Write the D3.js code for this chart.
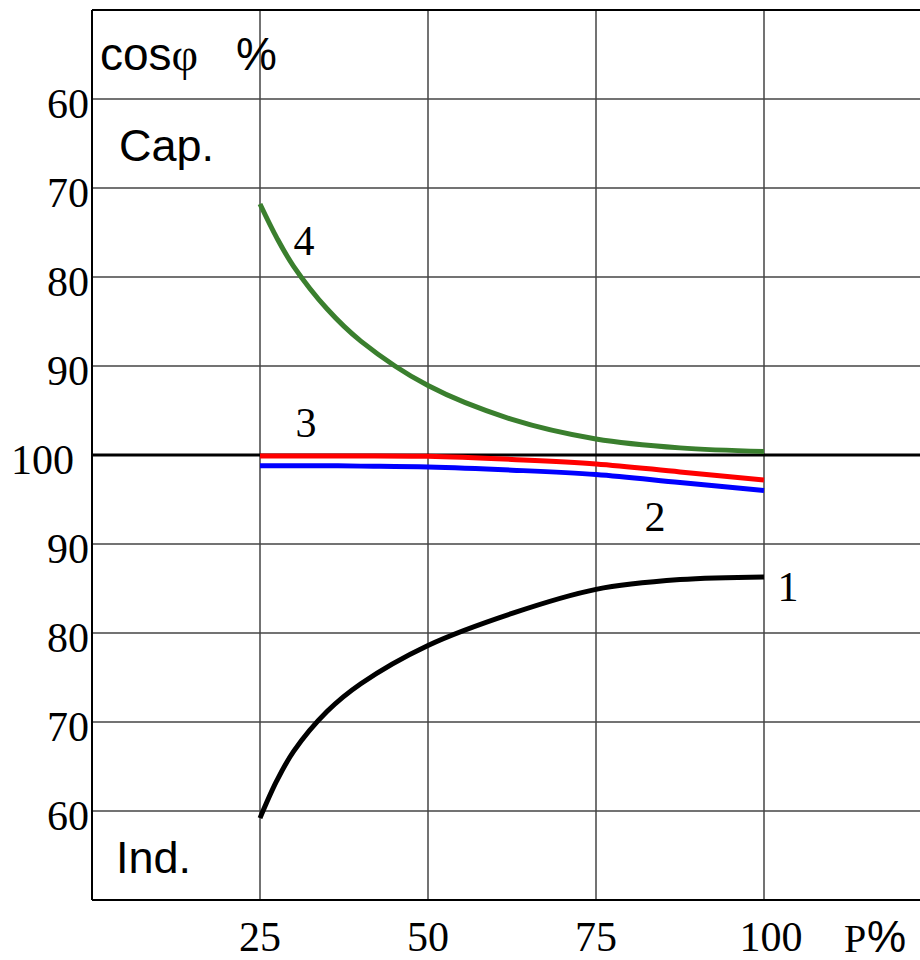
<!DOCTYPE html>
<html>
<head>
<meta charset="utf-8">
<script src="https://cdn.jsdelivr.net/npm/d3@7"></script>
<style>
  body { margin: 0; background: #fff; }
  svg { display: block; }
</style>
</head>
<body>
<div id="chart-container"></div>
<script>
// load P in %
const P = [25, 27.5, 30, 35, 40, 50, 62.5, 75, 87.5, 100];
// cos phi in %, curves 1-3 inductive side, curve 4 capacitive side
const curve1 = [59.2, 63.4, 66.7, 71.2, 74.3, 78.6, 82.2, 84.9, 86.0, 86.3];
const curve2 = [98.8, 98.8, 98.8, 98.8, 98.75, 98.65, 98.3, 97.8, 96.9, 96.0];
const curve3 = [99.9, 99.9, 99.9, 99.9, 99.9, 99.85, 99.5, 99.0, 98.1, 97.2];
const curve4 = [71.8, 75.6, 78.8, 83.6, 87.2, 92.2, 96.0, 98.2, 99.2, 99.6];

const xTicks = [25, 50, 75, 100];
// signed deviation from 100: negative = capacitive (top), positive = inductive (bottom)
const yTicks = [-40, -30, -20, -10, 0, 10, 20, 30, 40];

const W = 920, H = 960;
const serif = "'Liberation Serif', 'Times New Roman', serif";
const sans = "'Liberation Sans', Arial, sans-serif";

const svg = d3.select("#chart-container")
  .append("svg")
  .attr("width", W)
  .attr("height", H);

const x = d3.scaleLinear().domain([0, 125]).range([92, 932]);
const y = d3.scaleLinear().domain([-50, 50]).range([10, 900]);

// grid
const grid = svg.append("g");
grid.selectAll("line.v")
  .data(xTicks)
  .join("line")
  .attr("x1", d => x(d)).attr("x2", d => x(d))
  .attr("y1", y(-50)).attr("y2", y(50))
  .attr("stroke", "#444").attr("stroke-width", 1.5);

grid.selectAll("line.h")
  .data(yTicks.filter(d => d !== 0))
  .join("line")
  .attr("class", "h")
  .attr("x1", x(0)).attr("x2", W)
  .attr("y1", d => y(d)).attr("y2", d => y(d))
  .attr("stroke", "#444").attr("stroke-width", 1.5);

// frame: left, top, bottom
svg.append("line").attr("x1", x(0)).attr("x2", x(0)).attr("y1", y(-50)).attr("y2", y(50))
  .attr("stroke", "#000").attr("stroke-width", 2);
svg.append("line").attr("x1", x(0)).attr("x2", W).attr("y1", y(-50)).attr("y2", y(-50))
  .attr("stroke", "#000").attr("stroke-width", 2);
svg.append("line").attr("x1", x(0)).attr("x2", W).attr("y1", y(50)).attr("y2", y(50))
  .attr("stroke", "#000").attr("stroke-width", 2);
// cos phi = 100 line
svg.append("line").attr("x1", x(0)).attr("x2", W).attr("y1", y(0)).attr("y2", y(0))
  .attr("stroke", "#000").attr("stroke-width", 3);

// curves
const line = d3.line()
  .x(d => x(d[0]))
  .y(d => y(d[1]))
  .curve(d3.curveCatmullRom.alpha(0.5));

const series = [
  { vals: curve1, side: 1, color: "#000000" },
  { vals: curve2, side: 1, color: "#0000ff" },
  { vals: curve3, side: 1, color: "#ff0000" },
  { vals: curve4, side: -1, color: "#3a7f2e" }
];

series.forEach(s => {
  const pts = P.map((p, i) => [p, s.side * (100 - s.vals[i])]);
  svg.append("path")
    .datum(pts)
    .attr("d", line)
    .attr("fill", "none")
    .attr("stroke", s.color)
    .attr("stroke-width", 5);
});

// y tick labels
svg.selectAll("text.ytick")
  .data(yTicks)
  .join("text")
  .attr("class", "ytick")
  .attr("x", d => d === 0 ? 74 : 89)
  .attr("y", d => y(d) + 19)
  .attr("text-anchor", "end")
  .attr("font-family", serif)
  .attr("font-size", 42)
  .text(d => 100 - Math.abs(d));

// x tick labels
svg.selectAll("text.xtick")
  .data(xTicks)
  .join("text")
  .attr("class", "xtick")
  .attr("x", d => x(d) + (d === 100 ? 7 : 0))
  .attr("y", 951)
  .attr("text-anchor", "middle")
  .attr("font-family", serif)
  .attr("font-size", 42)
  .text(d => d);

// axis titles
svg.append("text")
  .attr("x", 844).attr("y", 952)
  .attr("font-family", serif).attr("font-size", 40)
  .text("P");
svg.append("text")
  .attr("x", 867).attr("y", 952)
  .attr("font-family", sans).attr("font-size", 44)
  .text("%");

const t = svg.append("text")
  .attr("x", 100).attr("y", 70)
  .attr("font-family", sans).attr("font-size", 46);
t.append("tspan").text("cos");
t.append("tspan").attr("font-family", serif).text("φ");
t.append("tspan").attr("x", 236).text("%");

svg.append("text")
  .attr("x", 119).attr("y", 161)
  .attr("font-family", sans).attr("font-size", 45)
  .text("Cap.");
svg.append("text")
  .attr("x", 116).attr("y", 873)
  .attr("font-family", sans).attr("font-size", 45)
  .text("Ind.");

// curve numbers
const curveLabels = [
  { t: "4", p: 30, d: -22.5 },
  { t: "3", p: 30.3, d: -2 },
  { t: "2", p: 82.2, d: 8.5 },
  { t: "1", p: 102, d: 16.4 }
];
svg.selectAll("text.clabel")
  .data(curveLabels)
  .join("text")
  .attr("class", "clabel")
  .attr("x", d => x(d.p))
  .attr("y", d => y(d.d))
  .attr("font-family", serif)
  .attr("font-size", 42)
  .text(d => d.t);
</script>
</body>
</html>
